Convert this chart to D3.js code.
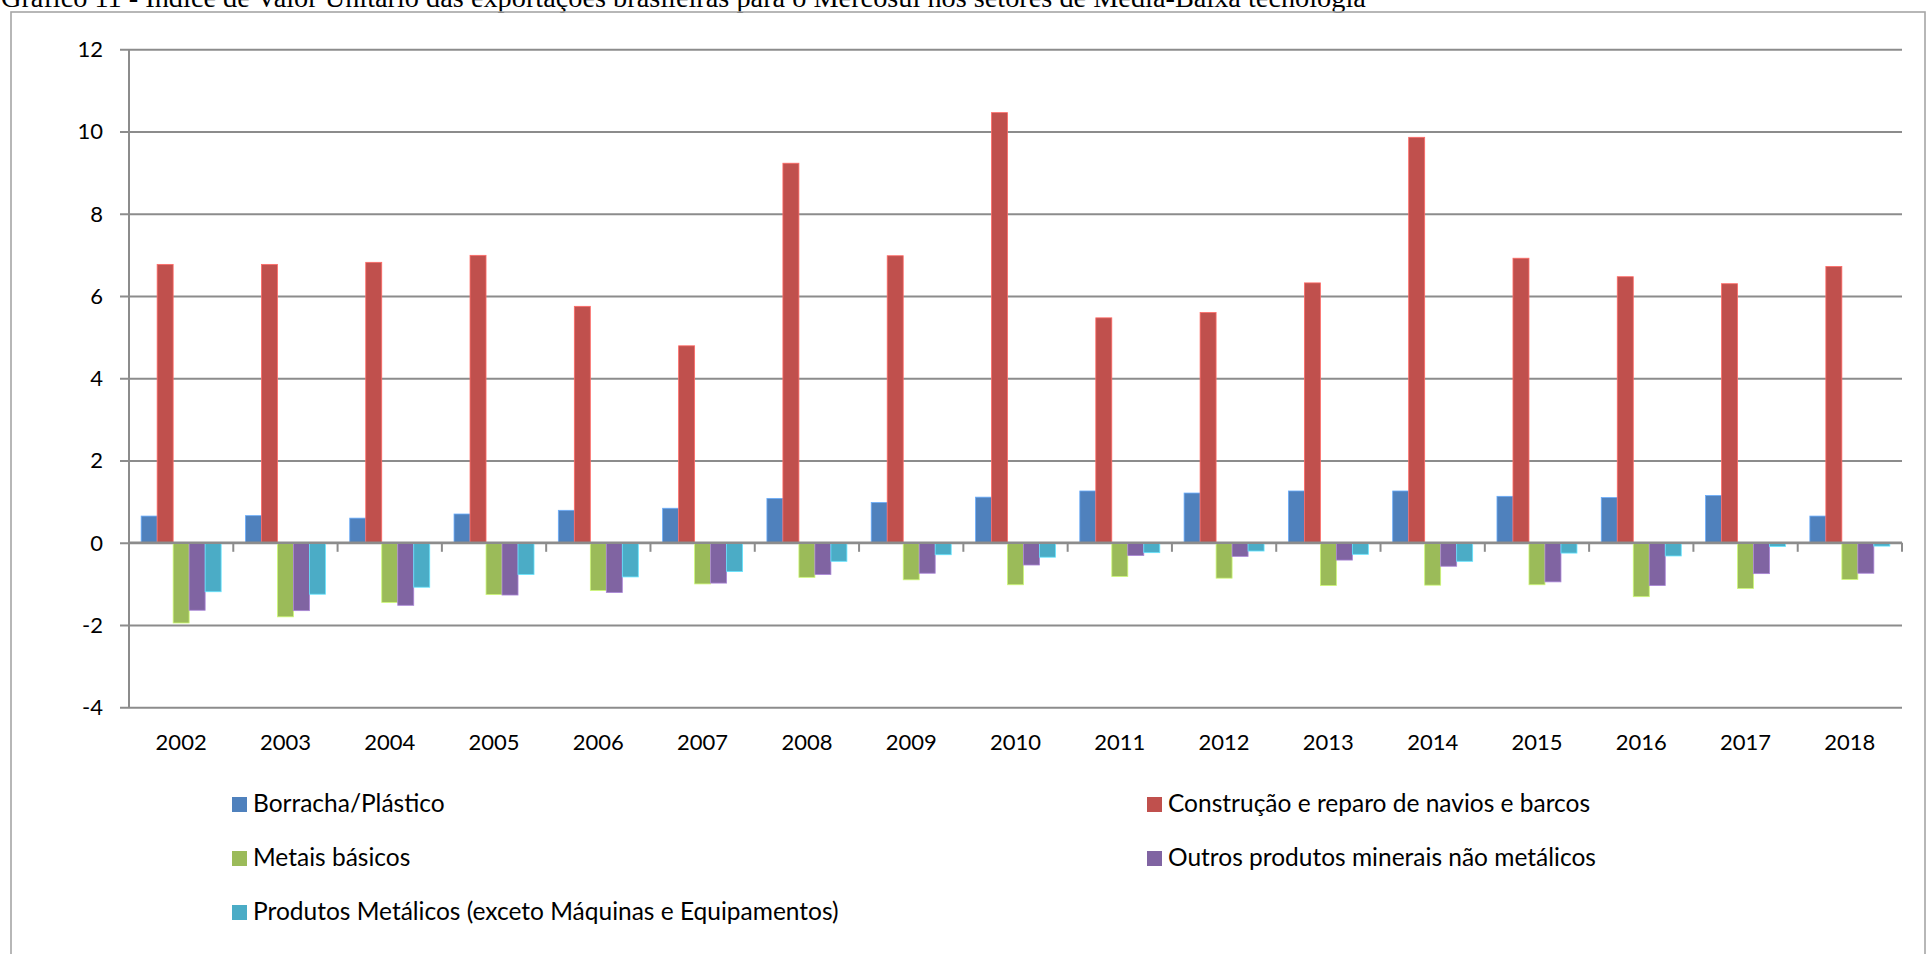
<!DOCTYPE html>
<html lang="pt">
<head>
<meta charset="utf-8">
<title>Gráfico 11</title>
<script src="https://cdn.jsdelivr.net/npm/d3@7"></script>
<style>
  html, body { margin: 0; padding: 0; background: #ffffff; overflow: hidden; }
  svg { display: block; }
</style>
</head>
<body>
<svg id="chart" width="1932" height="954"></svg>
<script>
// Anos (categorias do eixo horizontal)
const years = ["2002","2003","2004","2005","2006","2007","2008","2009","2010",
               "2011","2012","2013","2014","2015","2016","2017","2018"];

// Nomes das séries
const seriesNames = [
  "Borracha/Plástico",
  "Construção e reparo de navios e barcos",
  "Metais básicos",
  "Outros produtos minerais não metálicos",
  "Produtos Metálicos (exceto Máquinas e Equipamentos)"
];

// Valores de cada série, por ano
const borrachaPlastico = [0.65, 0.66, 0.60, 0.70, 0.79, 0.84, 1.08, 0.98, 1.11, 1.26, 1.21, 1.26, 1.26, 1.13, 1.10, 1.15, 0.65];
const navioBarcos      = [6.77, 6.77, 6.82, 6.99, 5.75, 4.79, 9.23, 6.98, 10.46, 5.47, 5.60, 6.32, 9.86, 6.92, 6.47, 6.30, 6.72];
const metaisBasicos    = [-1.95, -1.80, -1.45, -1.26, -1.16, -1.00, -0.84, -0.90, -1.02, -0.82, -0.86, -1.04, -1.03, -1.02, -1.31, -1.11, -0.89];
const outrosMinerais   = [-1.64, -1.65, -1.52, -1.27, -1.21, -0.98, -0.77, -0.74, -0.54, -0.31, -0.33, -0.42, -0.57, -0.95, -1.04, -0.75, -0.74];
const produtosMetalicos= [-1.19, -1.25, -1.08, -0.77, -0.83, -0.70, -0.45, -0.29, -0.35, -0.24, -0.20, -0.28, -0.45, -0.25, -0.32, -0.09, -0.08];

const seriesValues = [borrachaPlastico, navioBarcos, metaisBasicos, outrosMinerais, produtosMetalicos];
const seriesColors = ["#4F81BD", "#C0504D", "#9BBB59", "#8064A2", "#4BACC6"];

// Marcas do eixo vertical
const yTicks = [-4, -2, 0, 2, 4, 6, 8, 10, 12];

const titleText = "Gráfico 11 - Índice de Valor Unitário das exportações brasileiras para o Mercosul nos setores de Média-Baixa tecnologia";

const svg = d3.select("#chart");
const axisFont = "Lato, 'Open Sans', sans-serif";
const gridColor = "#8c8c8c";

// Título (parcialmente cortado na borda superior)
svg.append("text")
  .attr("x", 1)
  .attr("y", 7)
  .attr("font-family", "'Liberation Serif', 'Times New Roman', serif")
  .attr("font-size", 28.3)
  .attr("fill", "#000")
  .text(titleText);

// Moldura do gráfico
svg.append("rect")
  .attr("x", 11)
  .attr("y", 12)
  .attr("width", 1914)
  .attr("height", 1000)
  .attr("fill", "none")
  .attr("stroke", "#a6a6a6")
  .attr("stroke-width", 1.6);

const plotLeft = 129, plotRight = 1902, plotTop = 49.3, plotBottom = 707.3;

const x = d3.scaleBand().domain(years).range([plotLeft, plotRight]).paddingInner(0).paddingOuter(0);
const x1 = d3.scaleBand().domain(d3.range(seriesNames.length))
  .range([0, x.bandwidth()]).paddingInner(0).paddingOuter(0.76);
const y = d3.scaleLinear().domain([-4, 12]).range([plotBottom, plotTop]);

// Linhas de grade horizontais + marcas do eixo Y
const yAxis = d3.axisLeft(y).tickValues(yTicks).tickSize(-(plotRight - plotLeft)).tickPadding(0).tickFormat("");
const gy = svg.append("g").attr("transform", `translate(${plotLeft},0)`).call(yAxis);
gy.select(".domain").remove();
gy.selectAll(".tick line")
  .attr("x1", -9)
  .attr("stroke", gridColor)
  .attr("stroke-width", 2);

// Rótulos do eixo Y
svg.append("g").selectAll("text")
  .data(yTicks)
  .join("text")
  .attr("x", 103)
  .attr("y", d => y(d))
  .attr("dy", "0.36em")
  .attr("text-anchor", "end")
  .attr("font-family", axisFont)
  .attr("font-size", 22)
  .attr("fill", "#000")
  .text(d => d);

// Eixo Y (linha vertical)
svg.append("line")
  .attr("x1", plotLeft).attr("x2", plotLeft)
  .attr("y1", plotTop).attr("y2", plotBottom)
  .attr("stroke", gridColor).attr("stroke-width", 2);

// Barras
const groups = svg.append("g").selectAll("g")
  .data(years)
  .join("g")
  .attr("transform", d => `translate(${x(d)},0)`);

groups.selectAll("rect")
  .data((yr, i) => seriesValues.map((vals, s) => ({ s, v: vals[i] })))
  .join("rect")
  .attr("x", d => x1(d.s))
  .attr("width", x1.bandwidth())
  .attr("y", d => Math.min(y(d.v), y(0)))
  .attr("height", d => Math.abs(y(d.v) - y(0)))
  .attr("fill", d => seriesColors[d.s])
  .attr("stroke", d => d3.color(seriesColors[d.s]).brighter(0.8))
  .attr("stroke-width", 0.8);

// Eixo X na linha do zero, com marcas entre categorias
const gx = svg.append("g").attr("transform", `translate(0,${y(0)})`);
gx.append("line")
  .attr("x1", plotLeft).attr("x2", plotRight)
  .attr("stroke", gridColor).attr("stroke-width", 2.4);
gx.selectAll("line.tk")
  .data(years.slice(1).map(d => x(d)).concat([plotRight]))
  .join("line")
  .attr("class", "tk")
  .attr("x1", d => d).attr("x2", d => d)
  .attr("y1", 0).attr("y2", 9)
  .attr("stroke", gridColor).attr("stroke-width", 2);

// Rótulos dos anos
svg.append("g").selectAll("text")
  .data(years)
  .join("text")
  .attr("x", d => x(d) + x.bandwidth() / 2)
  .attr("y", 750)
  .attr("text-anchor", "middle")
  .attr("font-family", axisFont)
  .attr("font-size", 22)
  .attr("fill", "#000")
  .text(d => d);

// Legenda em duas colunas
const legendCols = [232, 1147];
const legendRows = [797, 851, 905];
const legend = svg.append("g").selectAll("g")
  .data(seriesNames)
  .join("g")
  .attr("transform", (d, i) => `translate(${legendCols[i % 2]},${legendRows[Math.floor(i / 2)]})`);

legend.append("rect")
  .attr("width", 15).attr("height", 15)
  .attr("fill", (d, i) => seriesColors[i]);

legend.append("text")
  .attr("x", 21)
  .attr("y", 15)
  .attr("font-family", axisFont)
  .attr("font-size", 24.5)
  .attr("fill", "#000")
  .text(d => d);
</script>
</body>
</html>
